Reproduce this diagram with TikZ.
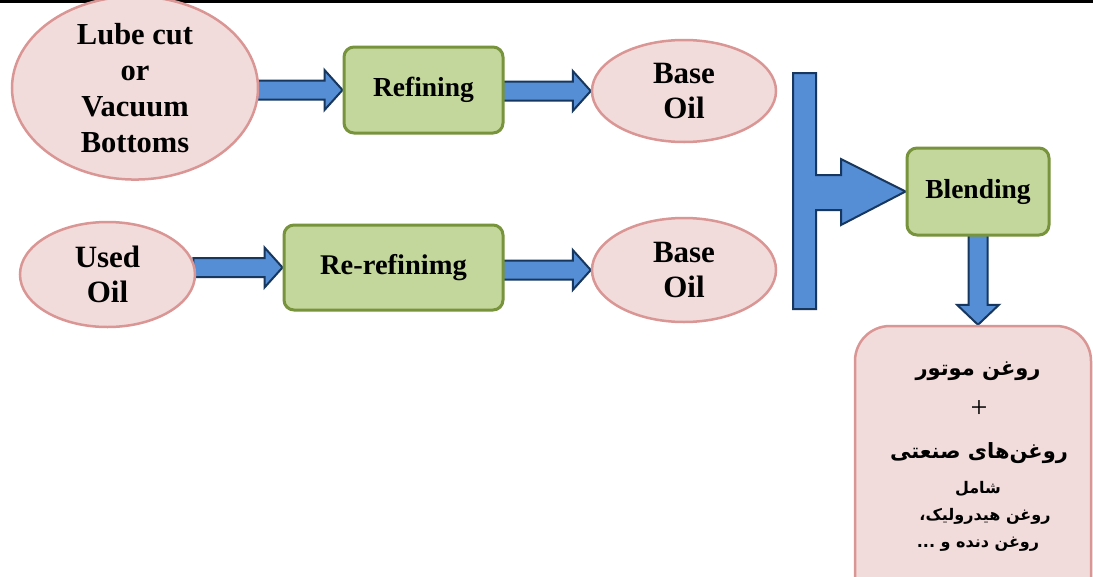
\documentclass[tikz,border=0pt]{standalone}
\usepackage{fontspec}
\setmainfont{Liberation Serif}
\newfontfamily\arabicfont[Script=Arabic]{DejaVu Sans}
\TeXXeTstate=1
\usetikzlibrary{calc,shapes.geometric}
\definecolor{pinkfill}{HTML}{F2DCDB}
\definecolor{pinkline}{HTML}{D99694}
\definecolor{greenfill}{HTML}{C3D69B}
\definecolor{greenline}{HTML}{77933C}
\definecolor{bluefill}{HTML}{558ED5}
\definecolor{blueline}{HTML}{17375E}
\pgfdeclarelayer{back}
\pgfdeclarelayer{bg}
\pgfsetlayers{back,bg,main}
\newcommand\blockarrowh[2]{%
  \begin{pgfonlayer}{bg}
  \path[barrow] let \p1=(#1.east), \p2=(#2.west) in
    (\x1-3pt,\y2+9.5pt) -- (\x2-18pt,\y2+9.5pt) -- (\x2-18pt,\y2+20pt) -- (\p2)
    -- (\x2-18pt,\y2-20pt) -- (\x2-18pt,\y2-9.5pt) -- (\x1-3pt,\y2-9.5pt) -- cycle;
  \end{pgfonlayer}}
\begin{document}
\begin{tikzpicture}[x=1pt,y=-1pt,
  oval/.style={ellipse, draw=pinkline, fill=pinkfill, line width=2.5pt, inner sep=0pt,
    align=center, font=\fontsize{31}{35}\selectfont\bfseries},
  procbox/.style={rectangle, rounded corners=10pt, draw=greenline, fill=greenfill,
    line width=3pt, inner sep=0pt, font=\fontsize{28}{30}\selectfont\bfseries},
  outbox/.style={rectangle, rounded corners=35pt, draw=pinkline, fill=pinkfill,
    line width=2.5pt, inner sep=0pt},
  arbig/.style={font=\arabicfont\bfseries\fontsize{21}{25}\selectfont, inner sep=0pt},
  arsmall/.style={font=\arabicfont\bfseries\fontsize{16}{20}\selectfont, inner sep=0pt},
  barrow/.style={draw=blueline, fill=bluefill, line width=2pt, line join=miter}]
\useasboundingbox (0,0) rectangle (1093,576);
\begin{pgfonlayer}{back}
\fill[white] (0,0) rectangle (1093,576);
\end{pgfonlayer}
\clip (0,0) rectangle (1093,576);
\draw[line width=2.5pt, black] (0,1.5) -- (1093,1.5);

\node[oval, minimum width=246pt, minimum height=162pt, font=\fontsize{30.5}{36}\selectfont\bfseries] (lube) at (135,88) {Lube cut\\or\\Vacuum\\Bottoms};
\node[procbox, minimum width=159pt, minimum height=86pt, font=\fontsize{27.5}{30}\selectfont\bfseries] (refine) at (423.5,90) {Refining};
\node[oval, minimum width=184pt, minimum height=102pt] (base1) at (684,91) {Base\\Oil};
\node[oval, minimum width=175pt, minimum height=105pt] (used) at (107.5,274.5) {Used\\Oil};
\node[procbox, minimum width=219pt, minimum height=85pt, font=\fontsize{28.5}{30}\selectfont\bfseries] (rerefine) at (393.5,267.5) {Re-refinimg};
\node[oval, minimum width=184pt, minimum height=104pt] (base2) at (684,270) {Base\\Oil};
\node[procbox, minimum width=142pt, minimum height=87pt, font=\fontsize{27.5}{30}\selectfont\bfseries] (blend) at (978,191.5) {Blending};
\node[outbox, minimum width=236pt, minimum height=290pt] (out) at (973,471) {};

\node[arbig] (t1) at (978,371) {\beginR روغن موتور\endR};
\node[inner sep=0pt, font=\fontsize{30}{32}\selectfont] (t2) at (979,409) {+};
\node[arbig] (t3) at (979,453) {\beginR روغن‌های صنعتی\endR};
\node[arsmall] (t4) at (978,489) {\beginR شامل\endR};
\node[arsmall] (t5) at (985,516) {\beginR روغن هیدرولیک،\endR};
\node[arsmall] (t6) at (978,544) {\beginR روغن دنده و ...\endR};

\blockarrowh{lube}{refine}
\blockarrowh{refine}{base1}
\blockarrowh{used}{rerefine}
\blockarrowh{rerefine}{base2}

\begin{pgfonlayer}{bg}
\path[barrow] (793,73) -- (816,73) -- (816,175) -- (841,175) -- (841,159) -- (blend.west)
  -- (841,225) -- (841,210) -- (816,210) -- (816,309) -- (793,309) -- cycle;
\path[barrow] let \p1=(blend.south), \p2=(out.north) in
  (\x1-9.5pt,\y1+2pt) -- (\x1-9.5pt,\y2+20pt) -- (\x1-21pt,\y2+20pt) -- (\x1,\y2)
  -- (\x1+21pt,\y2+20pt) -- (\x1+9.5pt,\y2+20pt) -- (\x1+9.5pt,\y1+2pt) -- cycle;
\end{pgfonlayer}
\end{tikzpicture}
\end{document}
